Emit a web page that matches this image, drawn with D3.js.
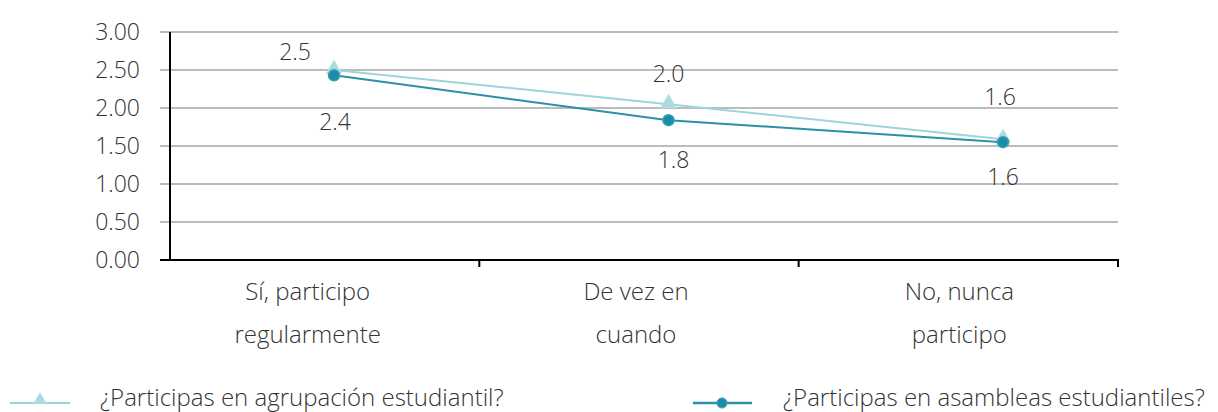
<!DOCTYPE html>
<html>
<head>
<meta charset="utf-8">
<script src="https://cdn.jsdelivr.net/npm/d3@7"></script>
<style>
  body { margin: 0; background: #fff; overflow: hidden; }
  text { font-family: "Open Sans", "Noto Sans", sans-serif; font-weight: 300; fill: #333; }
</style>
</head>
<body>
<svg id="chart" width="1218" height="412"></svg>
<script>
// data
const categories = [["Sí, participo", "regularmente"], ["De vez en", "cuando"], ["No, nunca", "participo"]];
const agrupacion = [2.5, 2.05, 1.59];
const asambleas = [2.43, 1.84, 1.55];
const agrupacionLabels = ["2.5", "2.0", "1.6"];
const asambleasLabels = ["2.4", "1.8", "1.6"];
const yTicks = [0, 0.5, 1, 1.5, 2, 2.5, 3];
const seriesNames = ["¿Participas en agrupación estudiantil?", "¿Participas en asambleas estudiantiles?"];

const svg = d3.select("#chart");
const c1 = "#9fd4da", c2 = "#2b90a9";

const y = d3.scaleLinear().domain([0, 3]).range([260, 32]);
const xBand = d3.scaleBand().domain(d3.range(3)).range([160, 1118]);
// the markers sit a bit off the band centres in the original
const xPt = d3.scalePoint().domain(d3.range(3)).range([334, 1003]);

// grid
svg.append("g").selectAll("line").data(yTicks.filter(d => d > 0)).enter()
    .append("line")
    .attr("x1", 160).attr("x2", 1118)
    .attr("y1", d => y(d)).attr("y2", d => y(d))
    .style("stroke", "#a6a6a6").style("stroke-width", 1.5);

// y tick labels
svg.append("g").selectAll("text").data(yTicks).enter()
    .append("text")
    .attr("x", 140).attr("y", d => y(d) + 8)
    .attr("text-anchor", "end")
    .style("font-size", "23px")
    .text(d => d.toFixed(2));

// axes
svg.append("line").attr("x1", 170).attr("x2", 170).attr("y1", y(3)).attr("y2", 260)
    .style("stroke", "#000").style("stroke-width", 2);
svg.append("line").attr("x1", 160).attr("x2", 1119).attr("y1", 260).attr("y2", 260)
    .style("stroke", "#000").style("stroke-width", 2);
svg.append("g").selectAll("line").data([1, 2, 3]).enter()
    .append("line")
    .attr("x1", d => d < 3 ? xBand(d) : 1118).attr("x2", d => d < 3 ? xBand(d) : 1118)
    .attr("y1", 260).attr("y2", 267)
    .style("stroke", "#000").style("stroke-width", 2);

// category labels
const catShift = [-12, -3, 1];
categories.forEach((lines, i) => {
    lines.forEach((t, j) => {
        svg.append("text")
            .attr("x", xBand(i) + xBand.bandwidth() / 2 + catShift[i])
            .attr("y", 300 + j * 43)
            .attr("text-anchor", "middle")
            .style("font-size", "24px")
            .text(t);
    });
});

const line = d3.line().x((d, i) => xPt(i)).y(d => y(d));

const tri = d3.symbol().type(d3.symbolTriangle).size(100);

// series 1 - triangles
svg.append("path").attr("d", line(agrupacion))
    .style("fill", "none").style("stroke", c1).style("stroke-width", 2);
svg.append("g").selectAll("path").data(agrupacion).enter()
    .append("path")
    .attr("d", tri)
    .attr("transform", (d, i) => `translate(${xPt(i)},${y(d) - 1})`)
    .style("fill", "#a9dbe0").style("stroke", "#b8e2e6").style("stroke-width", 1);

// series 2 - circles
svg.append("path").attr("d", line(asambleas))
    .style("fill", "none").style("stroke", c2).style("stroke-width", 2);
svg.append("g").selectAll("circle").data(asambleas).enter()
    .append("circle")
    .attr("cx", (d, i) => xPt(i)).attr("cy", d => y(d))
    .attr("r", 5.5)
    .style("fill", "#1a8ea8").style("stroke", "#3a9db5").style("stroke-width", 1.5);

// data labels
const lab1 = [[-39, -10], [0, -22], [-3, -34]];
const lab2 = [[1, 55], [5, 48], [0, 43]];
svg.append("g").selectAll("text").data(agrupacion).enter()
    .append("text")
    .attr("x", (d, i) => xPt(i) + lab1[i][0])
    .attr("y", (d, i) => y(d) + lab1[i][1])
    .attr("text-anchor", "middle")
    .style("font-size", "23px")
    .text((d, i) => agrupacionLabels[i]);
svg.append("g").selectAll("text").data(asambleas).enter()
    .append("text")
    .attr("x", (d, i) => xPt(i) + lab2[i][0])
    .attr("y", (d, i) => y(d) + lab2[i][1])
    .attr("text-anchor", "middle")
    .style("font-size", "23px")
    .text((d, i) => asambleasLabels[i]);

// legend
const lg = svg.append("g");
lg.append("line").attr("x1", 10).attr("x2", 70).attr("y1", 403).attr("y2", 403)
    .style("stroke", c1).style("stroke-width", 2);
lg.append("path").attr("d", d3.symbol().type(d3.symbolTriangle).size(80))
    .attr("transform", "translate(40,400)")
    .style("fill", "#a9dbe0");
lg.append("text").attr("x", 100).attr("y", 406).style("font-size", "24px").text(seriesNames[0]);

lg.append("line").attr("x1", 693).attr("x2", 752).attr("y1", 403).attr("y2", 403)
    .style("stroke", c2).style("stroke-width", 2.5);
lg.append("circle").attr("cx", 722).attr("cy", 403).attr("r", 5)
    .style("fill", "#1a8ea8").style("stroke", "#3a9db5");
lg.append("text").attr("x", 783).attr("y", 406).style("font-size", "24px").text(seriesNames[1]);
</script>
</body>
</html>
